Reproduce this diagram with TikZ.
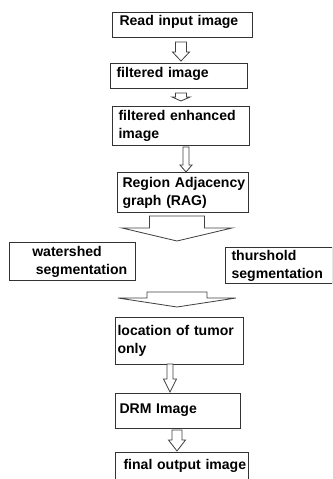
\documentclass[tikz,border=0pt]{standalone}
\usepackage{fontspec}
\setmainfont{Liberation Sans}
\usetikzlibrary{calc}
\hyphenpenalty=10000
\hbadness=10000

\newcommand{\px}{0.03cm}
% hollow block arrow: top point, tip point, shaft half width, head half width, head length
\newcommand{\blockarrow}[5]{%
  \draw[blockarr] ($(#1)+(-#3,0)$) -- ($(#1)+(#3,0)$) -- ($(#2)+(#3,-#5)$)
    -- ($(#2)+(#4,-#5)$) -- (#2) -- ($(#2)+(-#4,-#5)$) -- ($(#2)+(-#3,-#5)$) -- cycle;}

\begin{document}
\begin{tikzpicture}[
    x=\px, y=-\px,
    box/.style n args={3}{rectangle, draw=black!80, line width=0.9pt, anchor=north west,
        minimum width=#1*\px, minimum height=#2*\px, inner xsep=#3*\px, inner ysep=0pt,
        text width=(#1-2*#3)*\px, align=left, font=\bfseries\fontsize{12}{15.4}\selectfont},
    blockarr/.style={draw=black!75, line width=0.7pt, fill=white, line join=miter}
]
\useasboundingbox (0,0) rectangle (332,479);
\clip (0,0) rectangle (332,479);

% boxes
\node[box={140}{25}{7}, text depth=8pt] (read) at (112,12) {Read~input~image};
\node[box={137}{25}{6}, text depth=6.4pt] (filt) at (110,63) {filtered~image};
\node[box={137}{39}{6}] (enh) at (112,106) {filtered~enhanced\\image};
\node[box={131}{40}{5}] (rag) at (117,172) {Region~Adjacency\\graph~(RAG)};
\node[box={126}{38}{4}] (water) at (9,242) {\hspace*{16pt}watershed\\\hspace*{19pt}segmentation};
\node[box={107}{36}{6}] (thresh) at (225,247) {thurshold\\segmentation};
\node[box={128}{47}{2}] (loc) at (115,317) {location~of~tumor\\only};
\node[box={125}{35}{4}, text depth=4.6pt] (drm) at (115,393) {DRM~Image};
\node[box={133}{30}{8}, text depth=5.5pt] (final) at (115,452) {final~output~image};

% arrow end points
\coordinate (a1top) at (181,42);  \coordinate (a1tip) at (181,61);
\coordinate (a2top) at (181,93);  \coordinate (a2tip) at (181,101);
\coordinate (a3top) at (186,147); \coordinate (a3tip) at (186,172);
\coordinate (a4top) at (177,216); \coordinate (a4tip) at (177,241);
\coordinate (a5top) at (177,292); \coordinate (a5tip) at (177,307);
\coordinate (a6top) at (170,364); \coordinate (a6tip) at (170,392);
\coordinate (a7top) at (177,430); \coordinate (a7tip) at (177,451);

% block arrows
\blockarrow{a1top}{a1tip}{5.5}{8.5}{9}
\blockarrow{a2top}{a2tip}{5.5}{9}{4}
\blockarrow{a3top}{a3tip}{3}{6}{7}
\blockarrow{a4top}{a4tip}{27.5}{55}{13}
\blockarrow{a5top}{a5tip}{30}{59}{9}
\blockarrow{a6top}{a6tip}{3}{6.5}{13}
\blockarrow{a7top}{a7tip}{5}{8.5}{11}

\end{tikzpicture}
\end{document}
